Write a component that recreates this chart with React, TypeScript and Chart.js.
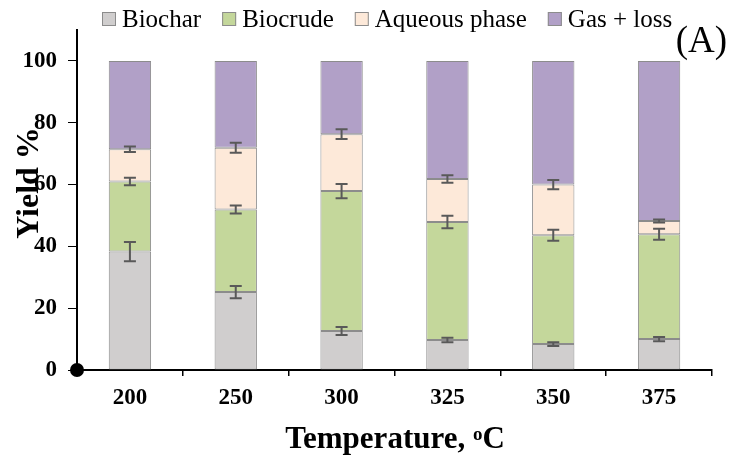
import React, { useEffect, useRef } from "react";
import { Chart, registerables } from "chart.js";

Chart.register(...registerables);

const categories = ["200", "250", "300", "325", "350", "375"];
const seriesNames = ["Biochar", "Biocrude", "Aqueous phase", "Gas + loss"];
const biochar = [38.3, 25.2, 12.6, 9.7, 8.4, 10.0];
const biocrude = [22.7, 26.7, 45.3, 38.2, 35.2, 33.9];
const aqueous = [10.4, 20.0, 18.4, 13.9, 16.4, 4.3];
const gasLoss = [28.6, 28.1, 23.7, 38.2, 40.0, 51.8];
const biocharErr = [3.1, 2.0, 1.3, 0.7, 0.6, 0.7];
const biocrudeErr = [1.2, 1.3, 2.3, 2.0, 1.8, 1.8];
const aqueousErr = [0.9, 1.6, 1.6, 1.2, 1.5, 0.5];
const yTickValues = [0, 20, 40, 60, 80, 100];
const fillColors = ["#D0CECE", "#C4D79B", "#FDE9D9", "#B1A0C7"];

const FONT = "'Liberation Serif', 'Times New Roman', serif";

const decorPlugin = {
  id: "decor",
  afterDatasetsDraw(chart: any) {
    const ctx = chart.ctx;
    const y = chart.scales.y;
    const errs = [biocharErr, biocrudeErr, aqueousErr];
    const series = [biochar, biocrude, aqueous];
    ctx.save();
    ctx.strokeStyle = "#595959";
    ctx.lineWidth = 2;
    for (let d = 0; d < 3; d++) {
      const meta = chart.getDatasetMeta(d);
      meta.data.forEach((bar: any, i: number) => {
        let cum = 0;
        for (let k = 0; k <= d; k++) cum += series[k][i];
        const e = errs[d][i];
        const x = bar.x;
        const yt = y.getPixelForValue(cum + e);
        const yb = y.getPixelForValue(cum - e);
        ctx.beginPath();
        ctx.moveTo(x, yt);
        ctx.lineTo(x, yb);
        ctx.moveTo(x - 6, yt);
        ctx.lineTo(x + 6, yt);
        ctx.moveTo(x - 6, yb);
        ctx.lineTo(x + 6, yb);
        ctx.stroke();
      });
    }
    ctx.restore();
  },
  afterDraw(chart: any) {
    const ctx = chart.ctx;
    const area = chart.chartArea;
    ctx.save();
    // origin dot
    ctx.fillStyle = "#000";
    ctx.beginPath();
    ctx.arc(area.left, area.bottom, 7, 0, Math.PI * 2);
    ctx.fill();

    // legend
    ctx.font = `25px ${FONT}`;
    ctx.textBaseline = "middle";
    ctx.textAlign = "left";
    let lx = 102;
    const ly = 19;
    seriesNames.forEach((name, i) => {
      ctx.fillStyle = fillColors[i];
      ctx.fillRect(lx, ly - 7, 14, 14);
      ctx.strokeStyle = "#8C8C8C";
      ctx.lineWidth = 1;
      ctx.strokeRect(lx + 0.5, ly - 6.5, 13, 13);
      ctx.fillStyle = "#000";
      ctx.fillText(name, lx + 20, ly + 1);
      lx += 20 + ctx.measureText(name).width + 21;
    });

    // (A)
    ctx.font = `37px ${FONT}`;
    ctx.textAlign = "right";
    ctx.textBaseline = "alphabetic";
    ctx.fillText("(A)", 727, 52);

    // y title
    ctx.save();
    ctx.translate(38, 183);
    ctx.rotate(-Math.PI / 2);
    ctx.font = `bold 32px ${FONT}`;
    ctx.textAlign = "center";
    ctx.textBaseline = "alphabetic";
    ctx.fillText("Yield %", 0, 0);
    ctx.restore();

    // x title with superscript o
    const main = "Temperature, ";
    ctx.font = `bold 31px ${FONT}`;
    const w1 = ctx.measureText(main).width;
    const wC = ctx.measureText("C").width;
    ctx.font = `bold 19px ${FONT}`;
    const wo = ctx.measureText("o").width;
    const total = w1 + wo + wC;
    let tx = 395 - total / 2;
    ctx.textAlign = "left";
    ctx.textBaseline = "alphabetic";
    ctx.font = `bold 31px ${FONT}`;
    ctx.fillText(main, tx, 448);
    tx += w1;
    ctx.font = `bold 19px ${FONT}`;
    ctx.fillText("o", tx, 440);
    tx += wo;
    ctx.font = `bold 31px ${FONT}`;
    ctx.fillText("C", tx, 448);
    ctx.restore();
  },
};

export default function App() {
  const ref = useRef<HTMLCanvasElement | null>(null);
  useEffect(() => {
    if (!ref.current) return;
    const mk = (label: string, data: number[], i: number) => ({
      label,
      data,
      backgroundColor: fillColors[i],
      borderColor: "#8C8C8C",
      borderWidth: 1,
      borderSkipped: false,
      barPercentage: 0.4,
      categoryPercentage: 1,
    });
    const chart = new Chart(ref.current, {
      type: "bar",
      data: {
        labels: categories,
        datasets: [
          mk(seriesNames[0], biochar, 0),
          mk(seriesNames[1], biocrude, 1),
          mk(seriesNames[2], aqueous, 2),
          mk(seriesNames[3], gasLoss, 3),
        ],
      },
      options: {
        animation: false,
        responsive: true,
        maintainAspectRatio: false,
        layout: { padding: { top: 30, right: 17, bottom: 0, left: 0 } },
        plugins: {
          legend: { display: false },
          tooltip: { enabled: false },
        },
        scales: {
          x: {
            stacked: true,
            afterFit: (s: any) => {
              s.height = 87;
            },
            grid: {
              drawOnChartArea: false,
              drawTicks: true,
              tickLength: 6,
              color: "#000",
              lineWidth: 1.5,
            },
            border: { display: true, color: "#000", width: 2 },
            ticks: {
              color: "#000",
              padding: 8,
              font: { family: FONT, size: 23, weight: "bold" },
            },
          },
          y: {
            stacked: true,
            min: 0,
            max: 110,
            afterFit: (s: any) => {
              s.width = 77;
            },
            afterBuildTicks: (s: any) => {
              s.ticks = yTickValues.map((v) => ({ value: v }));
            },
            grid: {
              drawOnChartArea: false,
              drawTicks: true,
              tickLength: 9,
              color: "#000",
              lineWidth: 1,
            },
            border: { display: true, color: "#000", width: 2 },
            ticks: {
              color: "#000",
              padding: 11,
              font: { family: FONT, size: 23, weight: "bold" },
            },
          },
        },
      },
      plugins: [decorPlugin],
    } as any);
    return () => chart.destroy();
  }, []);
  return (
    <div style={{ position: "fixed", left: 0, top: 0, width: 729, height: 457, background: "#fff" }}>
      <canvas ref={ref} />
    </div>
  );
}
